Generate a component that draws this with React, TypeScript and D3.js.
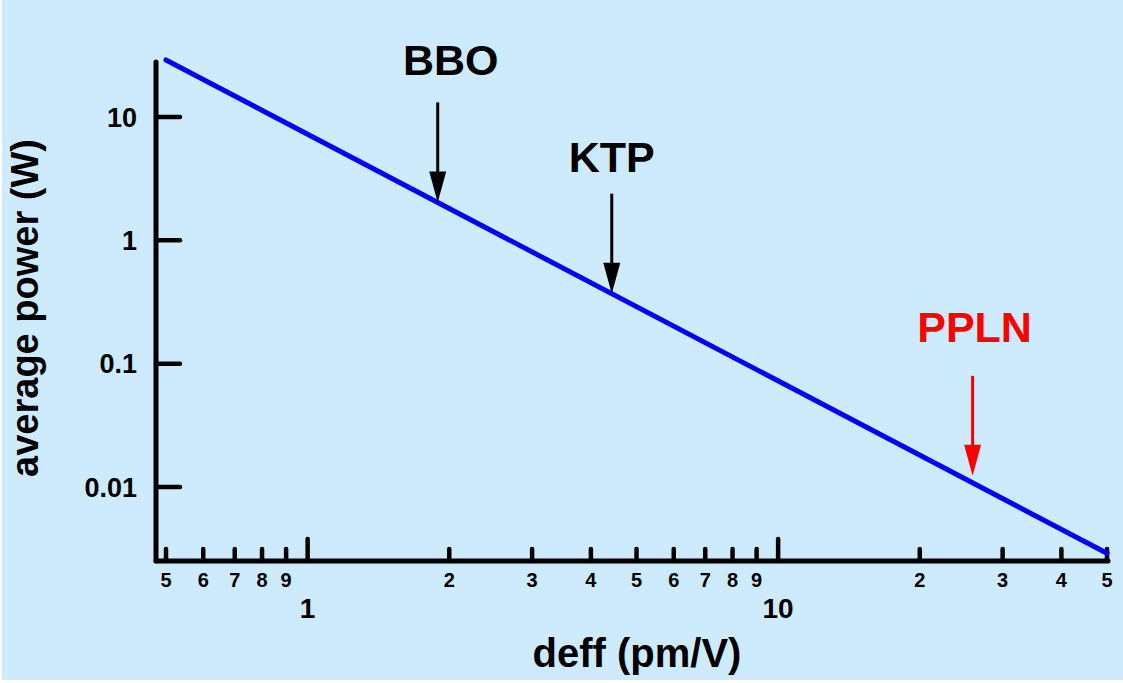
import React from "react";
import * as d3 from "d3";

// ---- data ----
const deffValues = [0.5, 50]; // pm/V
const powerValues = [29, 0.0029]; // W  (P ∝ 1/deff²)
const yTickValues = [10, 1, 0.1, 0.01];
const yTickLabels = ["10", "1", "0.1", "0.01"];
const xMinorTicks = [0.5, 0.6, 0.7, 0.8, 0.9, 2, 3, 4, 5, 6, 7, 8, 9, 20, 30, 40, 50];
const xMinorLabels = ["5", "6", "7", "8", "9", "2", "3", "4", "5", "6", "7", "8", "9", "2", "3", "4", "5"];
const xMajorTicks = [1, 10];
const xMajorLabels = ["1", "10"];
const crystalNames = ["BBO", "KTP", "PPLN"];
const crystalDeff = [1.89, 4.43, 25.9];
const crystalColors = ["#000000", "#000000", "#ff0000"];

// ---- layout (styles) ----
const W = 1123;
const H = 683;
const BG = "#cdebfd";
const FONT = "'Liberation Sans', Arial, Helvetica, sans-serif";
const axisX = 156;
const axisY = 561;
const axisTop = 62;
const arrowLen = 100;
const tipGap = [0, 0, 7];
const labelGap = [27, 22, 34];
const labelDx = [13, 0, 2];

export default function App() {
  const x = d3.scaleLog().domain([0.5, 50]).range([166, 1107]);
  const y = d3.scaleLog().domain([0.01, 10]).range([487, 117]);

  const pts = deffValues.map((d, i) => [d, powerValues[i]] as [number, number]);
  const lineGen = d3
    .line<[number, number]>()
    .x((d) => x(d[0]))
    .y((d) => y(d[1]));

  // power on the curve at any deff (log-linear between the end points)
  const curve = d3
    .scaleLog()
    .domain(deffValues)
    .range(powerValues.map((p) => Math.log10(p)));

  return (
    <svg
      width={W}
      height={H}
      style={{ position: "absolute", left: 0, top: 0, display: "block" }}
      fontFamily={FONT}
      fontWeight="bold"
    >
      <rect x={0} y={0} width={W} height={H} fill="#ffffff" />
      <rect x={2} y={0} width={W - 2} height={H - 3} fill={BG} />

      {/* axes */}
      <line x1={axisX} y1={axisTop} x2={axisX} y2={axisY} stroke="#000" strokeWidth={5} strokeLinecap="round" />
      <line x1={axisX} y1={axisY} x2={x(50) + 1} y2={axisY} stroke="#000" strokeWidth={5} strokeLinecap="round" />

      {/* y ticks */}
      {yTickValues.map((v, i) => (
        <g key={"yt" + i}>
          <line x1={axisX} x2={axisX + 24} y1={y(v)} y2={y(v)} stroke="#000" strokeWidth={4.5} strokeLinecap="round" />
          <text x={137} y={y(v)} dy="0.355em" textAnchor="end" fontSize={27} fill="#000">
            {yTickLabels[i]}
          </text>
        </g>
      ))}

      {/* x minor ticks */}
      {xMinorTicks.map((v, i) => (
        <g key={"xm" + i}>
          <line x1={x(v)} x2={x(v)} y1={axisY} y2={axisY - 12} stroke="#000" strokeWidth={4.5} strokeLinecap="round" />
          <text x={x(v)} y={587} textAnchor="middle" fontSize={20} fill="#000">
            {xMinorLabels[i]}
          </text>
        </g>
      ))}
      {/* x major ticks */}
      {xMajorTicks.map((v, i) => (
        <g key={"xM" + i}>
          <line x1={x(v)} x2={x(v)} y1={axisY} y2={axisY - 22} stroke="#000" strokeWidth={4.5} strokeLinecap="round" />
          <text x={x(v)} y={618} textAnchor="middle" fontSize={28} fill="#000">
            {xMajorLabels[i]}
          </text>
        </g>
      ))}

      {/* axis titles */}
      <text x={637} y={667} textAnchor="middle" fontSize={40} fill="#000">
        deff (pm/V)
      </text>
      <text
        transform={`translate(38, 308) rotate(-90)`}
        textAnchor="middle"
        fontSize={38}
        fill="#000"
      >
        average power (W)
      </text>

      {/* data line */}
      <path d={lineGen(pts) || ""} fill="none" stroke="#0000ff" strokeWidth={5} strokeLinecap="round" />

      {/* annotations */}
      {crystalNames.map((name, i) => {
        const cx = x(crystalDeff[i]);
        const tipY = y(Math.pow(10, curve(crystalDeff[i]))) - tipGap[i];
        const topY = tipY - arrowLen;
        const c = crystalColors[i];
        return (
          <g key={name}>
            <line x1={cx} x2={cx} y1={topY} y2={tipY - 28} stroke={c} strokeWidth={3} />
            <path d={`M${cx - 8.5},${tipY - 31} L${cx + 8.5},${tipY - 31} L${cx},${tipY} Z`} fill={c} />
            <text x={cx + labelDx[i]} y={topY - labelGap[i]} textAnchor="middle" fontSize={43} fill={c}>
              {name}
            </text>
          </g>
        );
      })}
    </svg>
  );
}
